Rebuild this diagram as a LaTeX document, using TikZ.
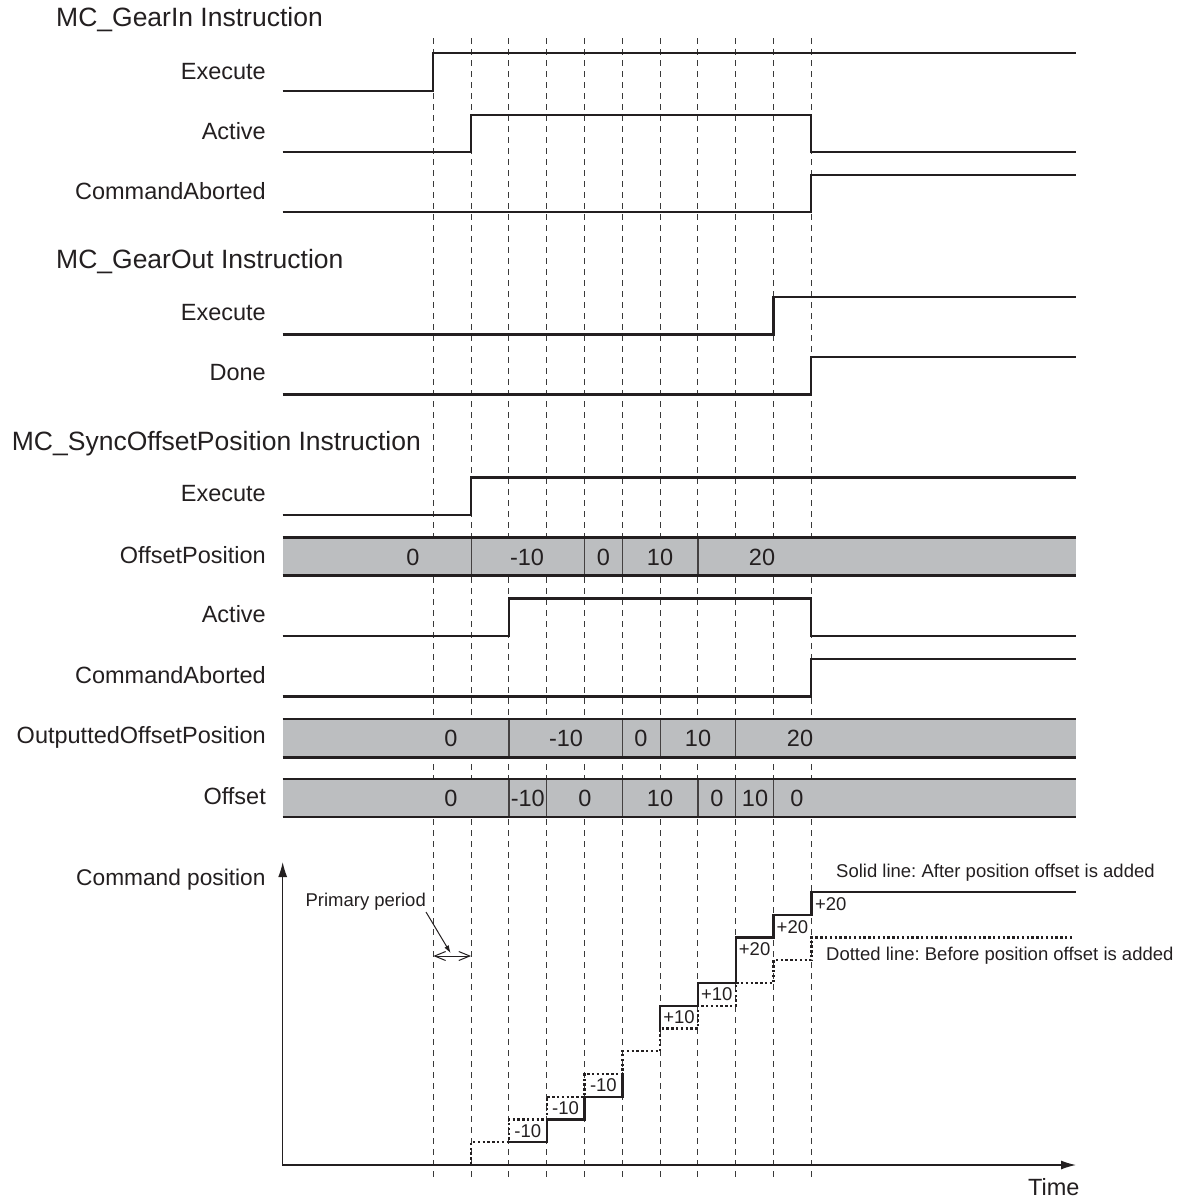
\documentclass[tikz,border=0pt]{standalone}
\usepackage{fontspec}
\setmainfont{Liberation Sans}
\usetikzlibrary{arrows.meta}
\definecolor{ink}{HTML}{231F20}
\definecolor{busgray}{HTML}{BCBEC0}
\definecolor{dashgray}{HTML}{3A3A3A}
\tikzset{
  sig/.style={line width=2.3pt, draw=ink, line join=miter},
  vdash/.style={line width=1pt, draw=dashgray, dash pattern=on 6pt off 5pt},
  trans/.style={line width=1.2pt, draw=ink!85},
  lbl/.style={anchor=base east, font=\fontsize{23.5}{28}\selectfont, text=ink, inner sep=0pt},
  ttl/.style={anchor=base west, font=\fontsize{26.5}{31}\selectfont, text=ink, inner sep=0pt},
  val/.style={anchor=base, font=\fontsize{23.5}{28}\selectfont, text=ink, inner sep=0pt},
  small/.style={font=\fontsize{18.5}{22}\selectfont, text=ink, inner sep=0pt},
  dotl/.style={line width=2.4pt, draw=ink, dash pattern=on 2.4pt off 2.4pt},
  solidl/.style={line width=2.4pt, draw=ink, line join=miter},
  axisl/.style={line width=1.3pt, draw=ink},
}
\begin{document}
\frenchspacing
\begin{tikzpicture}[x=1pt,y=-1pt]
\useasboundingbox (0,0) rectangle (1187,1202);
% time grid
\def\TA{433.3}\def\TB{471.1}\def\TC{508.9}\def\TD{546.7}\def\TE{584.5}
\def\TF{622.3}\def\TG{660.1}\def\TH{697.9}\def\TI{735.7}\def\TJ{773.5}\def\TK{811.3}
\def\XL{282.7}\def\XR{1076}
\foreach \t in {\TA,\TB,\TC,\TD,\TE,\TF,\TG,\TH,\TI,\TJ,\TK}
  \draw[vdash] (\t,38) -- (\t,1181);

% ---------- MC_GearIn ----------
\node[ttl] (t1) at (56,26.7) {MC\_GearIn Instruction};
\node[lbl] (l1) at (266,79.3) {Execute};
\draw[sig] (\XL,90.7) -- (\TA,90.7) -- (\TA,53.2) -- (\XR,53.2);
\node[lbl] (l2) at (266,139.3) {Active};
\draw[sig] (\XL,152) -- (\TB,152) -- (\TB,114.7) -- (\TK,114.7) -- (\TK,152) -- (\XR,152);
\node[lbl] (l3) at (266,199.3) {CommandAborted};
\draw[sig] (\XL,212) -- (\TK,212) -- (\TK,174.7) -- (\XR,174.7);

% ---------- MC_GearOut ----------
\node[ttl] (t2) at (56,268.3) {MC\_GearOut Instruction};
\node[lbl] (l4) at (266,320) {Execute};
\draw[sig] (\XL,334.5) -- (\TJ,334.5) -- (\TJ,297) -- (\XR,297);
\node[lbl] (l5) at (266,380.7) {Done};
\draw[sig] (\XL,394.5) -- (\TK,394.5) -- (\TK,357) -- (\XR,357);

% ---------- MC_SyncOffsetPosition ----------
\node[ttl] (t3) at (11.7,450) {MC\_SyncOffsetPosition Instruction};
\node[lbl] (l6) at (266,501.7) {Execute};
\draw[sig] (\XL,515) -- (\TB,515) -- (\TB,477.5) -- (\XR,477.5);

\node[lbl] (l7) at (266,563.3) {OffsetPosition};
\fill[busgray] (\XL,537.5) rectangle (\XR,575.5);
\foreach \t in {\TB,\TE,\TF,\TH} \draw[trans] (\t,537.5) -- (\t,575.5);
\draw[sig] (\XL,537.5) -- (\XR,537.5);
\draw[sig] (\XL,575.5) -- (\XR,575.5);
\node[val] (v11) at (413,565) {0};
\node[val] (v12) at (527,565) {-10};
\node[val] (v13) at (603.4,565) {0};
\node[val] (v14) at (660,565) {10};
\node[val] (v15) at (762,565) {20};

\node[lbl] (l8) at (266,622.7) {Active};
\draw[sig] (\XL,636) -- (\TC,636) -- (\TC,598.5) -- (\TK,598.5) -- (\TK,636) -- (\XR,636);
\node[lbl] (l9) at (266,683.3) {CommandAborted};
\draw[sig] (\XL,696.5) -- (\TK,696.5) -- (\TK,659) -- (\XR,659);

\node[lbl] (l10) at (266,743.3) {OutputtedOffsetPosition};
\fill[busgray] (\XL,719) rectangle (\XR,757.5);
\foreach \t in {\TC,\TF,\TG,\TI} \draw[trans] (\t,719) -- (\t,757.5);
\draw[sig] (\XL,719) -- (\XR,719);
\draw[sig] (\XL,757.5) -- (\XR,757.5);
\node[val] (v21) at (451,746.6) {0};
\node[val] (v22) at (566,746.6) {-10};
\node[val] (v23) at (641,746.6) {0};
\node[val] (v24) at (698,746.6) {10};
\node[val] (v25) at (800,746.6) {20};

\node[lbl] (l11) at (266,804) {Offset};
\fill[busgray] (\XL,779) rectangle (\XR,817);
\foreach \t in {\TC,\TD,\TF,\TH,\TI,\TJ} \draw[trans] (\t,779) -- (\t,817);
\draw[sig] (\XL,779) -- (\XR,779);
\draw[sig] (\XL,817) -- (\XR,817);
\node[val] (v31) at (451,806.4) {0};
\node[val] (v32) at (527.8,806.4) {-10};
\node[val] (v33) at (585,806.4) {0};
\node[val] (v34) at (660,806.4) {10};
\node[val] (v35) at (717,806.4) {0};
\node[val] (v36) at (755,806.4) {10};
\node[val] (v37) at (797,806.4) {0};

% ---------- Command position chart ----------
\coordinate (origin) at (\XL,1165);
\coordinate (ytop) at (\XL,862);
\coordinate (xend) at (\XR,1165);
\draw[axisl, {Latex[length=15pt,width=9pt]}-{Latex[length=15pt,width=9pt]}] (ytop) -- (origin) -- (xend);
\node[anchor=base east, font=\fontsize{22.7}{27}\selectfont, text=ink, inner sep=0pt] (cp) at (265.7,885) {Command position};
\node[anchor=base west, font=\fontsize{23.5}{28}\selectfont, text=ink, inner sep=0pt] (time) at (1028,1195) {Time};

% levels
\def\LA{1165}\def\LB{1142.25}\def\LC{1119.5}\def\LD{1096.75}\def\LE{1074}
\def\LF{1051.25}\def\LG{1028.5}\def\LH{1005.75}\def\LI{983}\def\LJ{960.25}
\def\LK{937.5}\def\LL{914.75}\def\LM{892}
% before offset (dotted)
\draw[dotl] (\TA,\LA) -- (\TB,\LA) -- (\TB,\LB) -- (\TC,\LB) -- (\TC,\LC) -- (\TD,\LC)
  -- (\TD,\LD) -- (\TE,\LD) -- (\TE,\LE) -- (\TF,\LE) -- (\TF,\LF) -- (\TG,\LF)
  -- (\TG,\LG) -- (\TH,\LG) -- (\TH,\LH) -- (\TI,\LH) -- (\TI,\LI) -- (\TJ,\LI)
  -- (\TJ,\LJ) -- (\TK,\LJ) -- (\TK,\LK) -- (1074,\LK);
% after offset (solid)
\draw[solidl] (\TC,\LB) -- (\TD,\LB) -- (\TD,\LC) -- (\TE,\LC) -- (\TE,\LD) -- (\TF,\LD) -- (\TF,\LE);
\draw[solidl] (\TG,\LG) -- (\TG,\LH) -- (\TH,\LH) -- (\TH,\LI) -- (\TI,\LI) -- (\TI,\LK)
  -- (\TJ,\LK) -- (\TJ,\LL) -- (\TK,\LL) -- (\TK,\LM) -- (\XR,\LM);
% offset labels
\node[small] (o1) at (527.8,1130.9) {-10};
\node[small] (o2) at (565.6,1108.1) {-10};
\node[small] (o3) at (603.4,1085.4) {-10};
\node[small] (o4) at (679,1017.1) {+10};
\node[small] (o5) at (716.8,994.4) {+10};
\node[small] (o6) at (754.6,949.5) {+20};
\node[small] (o7) at (792.4,926.8) {+20};
\node[small] (o8) at (830.8,904) {+20};

% legends
\node[small, anchor=base west] (leg1) at (836,877) {Solid line: After position offset is added};
\node[small, anchor=base west] (leg2) at (826,960) {Dotted line: Before position offset is added};

% primary period
\node[small, anchor=base] (pp) at (365.7,906) {Primary period};
\coordinate (ppa) at (\TA,956);
\coordinate (ppb) at (\TB,956);
\coordinate (ppm) at (450.7,953.3);
\draw[line width=1pt, draw=ink, {Straight Barb[length=11pt,width=9pt]}-{Straight Barb[length=11pt,width=9pt]}] (ppa) -- (ppb);
\draw[line width=1pt, draw=ink, -{Latex[length=8pt,width=5pt]}] (pp.south east) ++(0,2) -- (ppm);
\end{tikzpicture}
\end{document}
